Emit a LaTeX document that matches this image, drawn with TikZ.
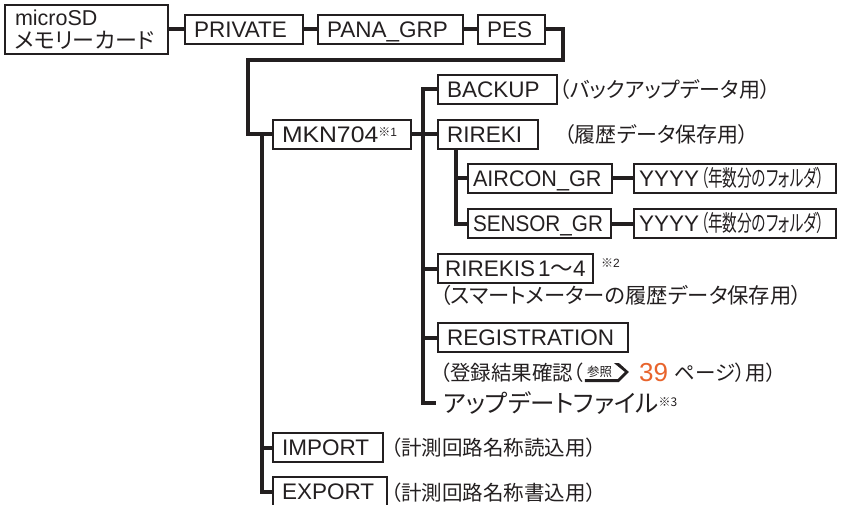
\documentclass[tikz,border=0pt]{standalone}
\usepackage{fontspec}
\usepackage{graphicx}
\setmainfont{Liberation Sans}
\newfontfamily\jp[RawFeature=+palt]{Noto Sans CJK JP}
\usetikzlibrary{calc}
\definecolor{ink}{HTML}{231F20}
\definecolor{orng}{HTML}{E8642C}
\newcommand\fsz[1]{\fontsize{#1}{#1}\selectfont}
\newcommand\note[1]{\raisebox{6pt}{\fsz{12}{\jp ※}#1}}
\begin{document}
\begin{tikzpicture}[x=1pt,y=-1pt,color=ink,
  box/.style={draw, line width=1.1pt, anchor=north west, minimum height=29pt, inner xsep=9pt, inner ysep=0pt, outer sep=0pt, align=left, font=\fsz{22.5}},
  bx/.style={box, text height=16pt, text depth=0pt},
  conn/.style={line width=4pt},
  dsc/.style={anchor=west, inner sep=0pt, font=\fsz{21}\jp},
  rowtxt/.style={anchor=base west, inner sep=0pt, font=\fsz{20.5}\jp},
]
\useasboundingbox (0,0) rectangle (845,505);

% boxes
\node[box, text width=143pt, minimum height=49pt, inner xsep=10pt, font=\fontsize{21.5}{23}\selectfont] (sd) at (5,5) {microSD\\{\jp\fontsize{22}{23}\selectfont メモリーカード}};
\node[bx, text width=100pt] (priv) at (185,15) {PRIVATE};
\node[bx, text width=127pt] (pana) at (318,15) {PANA\_GRP};
\node[bx, text width=49pt] (pes) at (478,15) {PES};
\node[bx, text width=120pt] (mkn) at (273,120) {\scalebox{1.1}[1]{MKN704}\note{1}};
\node[bx, text width=101pt] (backup) at (438,75) {BACKUP};
\node[bx, text width=82pt] (rireki) at (438,120) {RIREKI};
\node[bx, text width=134pt, inner xsep=5pt] (aircon) at (468,164) {\scalebox{0.96}[1]{AIRCON\_GR}};
\node[bx, text width=133pt, inner xsep=5pt] (sensor) at (468,209) {\scalebox{0.92}[1]{SENSOR\_GR}};
\node[bx, text width=192pt, inner xsep=5pt] (yy1) at (634,164) {YYYY\hspace{2pt}\scalebox{0.65}[1]{\jp （年数分のフォルダ）}};
\node[bx, text width=192pt, inner xsep=5pt] (yy2) at (634,209) {YYYY\hspace{2pt}\scalebox{0.65}[1]{\jp （年数分のフォルダ）}};
\node[bx, text width=141pt, inner xsep=7pt] (rirekis) at (438,254) {\mbox{RIREKIS\hspace{3pt}1{\jp 〜}4}};
\node[bx, text width=172pt] (regist) at (438,323) {REGISTRATION};
\node[bx, text width=92pt] (import) at (273,433) {IMPORT};
\node[bx, text width=96pt] (export) at (273,477) {EXPORT};

% descriptions
\node[dsc] (dbk) at (559,90) {（バックアップデータ用）};
\node[dsc] (drk) at (564,135) {（履歴データ保存用）};
\node[anchor=west, inner sep=0pt, font=\fsz{12}] (n2) at (601,263) {{\jp ※}2};
\node[dsc, font=\fsz{21.3}\jp] (drs) at (440,295) {（スマートメーターの履歴データ保存用）};
\node[rowtxt] (rg1) at (440,380) {（登録結果確認（};
\node[rowtxt, font=\fsz{12.5}\jp] (rgb) at ($(rg1.base east)+(3,-4)$) {参照};
\begin{scope}[shift={(rgb.base west)}]
\fill (27,-13) -- (32,-13) -- (42,-4) -- (32,6) -- (-2,6) -- (-2,3) -- (31,3) -- (38,-4) -- cycle;
\end{scope}
\node[rowtxt, font=\fsz{26}, text=orng] (rg39) at ($(rgb.base west)+(52,5)$) {39};
\node[rowtxt] (rg2) at ($(rg39.base east)+(6,-1)$) {ページ）用）};
\node[dsc, font=\fsz{24.5}\jp, inner xsep=7pt] (upd) at (436,403) {アップデートファイル\note{3}};
\node[dsc, font=\fsz{20.5}\jp] (dim) at (391,448) {（計測回路名称読込用）};
\node[dsc, font=\fsz{20.5}\jp] (dex) at (391,493) {（計測回路名称書込用）};

% connectors
\coordinate (k1) at (563,60);
\coordinate (k2) at (248,60);
\coordinate (tx) at (262,0);
\coordinate (vx) at (423,0);
\coordinate (wx) at (456,0);
\draw[conn] (sd.east) -- (priv.west);
\draw[conn] (priv.east) -- (pana.west);
\draw[conn] (pana.east) -- (pes.west);
\draw[conn] (pes.east) -| (k1) -- (k2) |- (mkn.west);
\draw[conn] (tx |- mkn.west) |- (export.west);
\draw[conn] (tx |- import.west) -- (import.west);
\draw[conn] (mkn.east) -- (rireki.west);
\draw[conn] (backup.west) -| (vx |- upd.west) -- (upd.west);
\draw[conn] (vx |- rirekis.west) -- (rirekis.west);
\draw[conn] (vx |- regist.west) -- (regist.west);
\draw[conn] (wx |- rireki.south) |- (sensor.west);
\draw[conn] (wx |- aircon.west) -- (aircon.west);
\draw[conn] (aircon.east) -- (yy1.west);
\draw[conn] (sensor.east) -- (yy2.west);
\end{tikzpicture}
\end{document}
